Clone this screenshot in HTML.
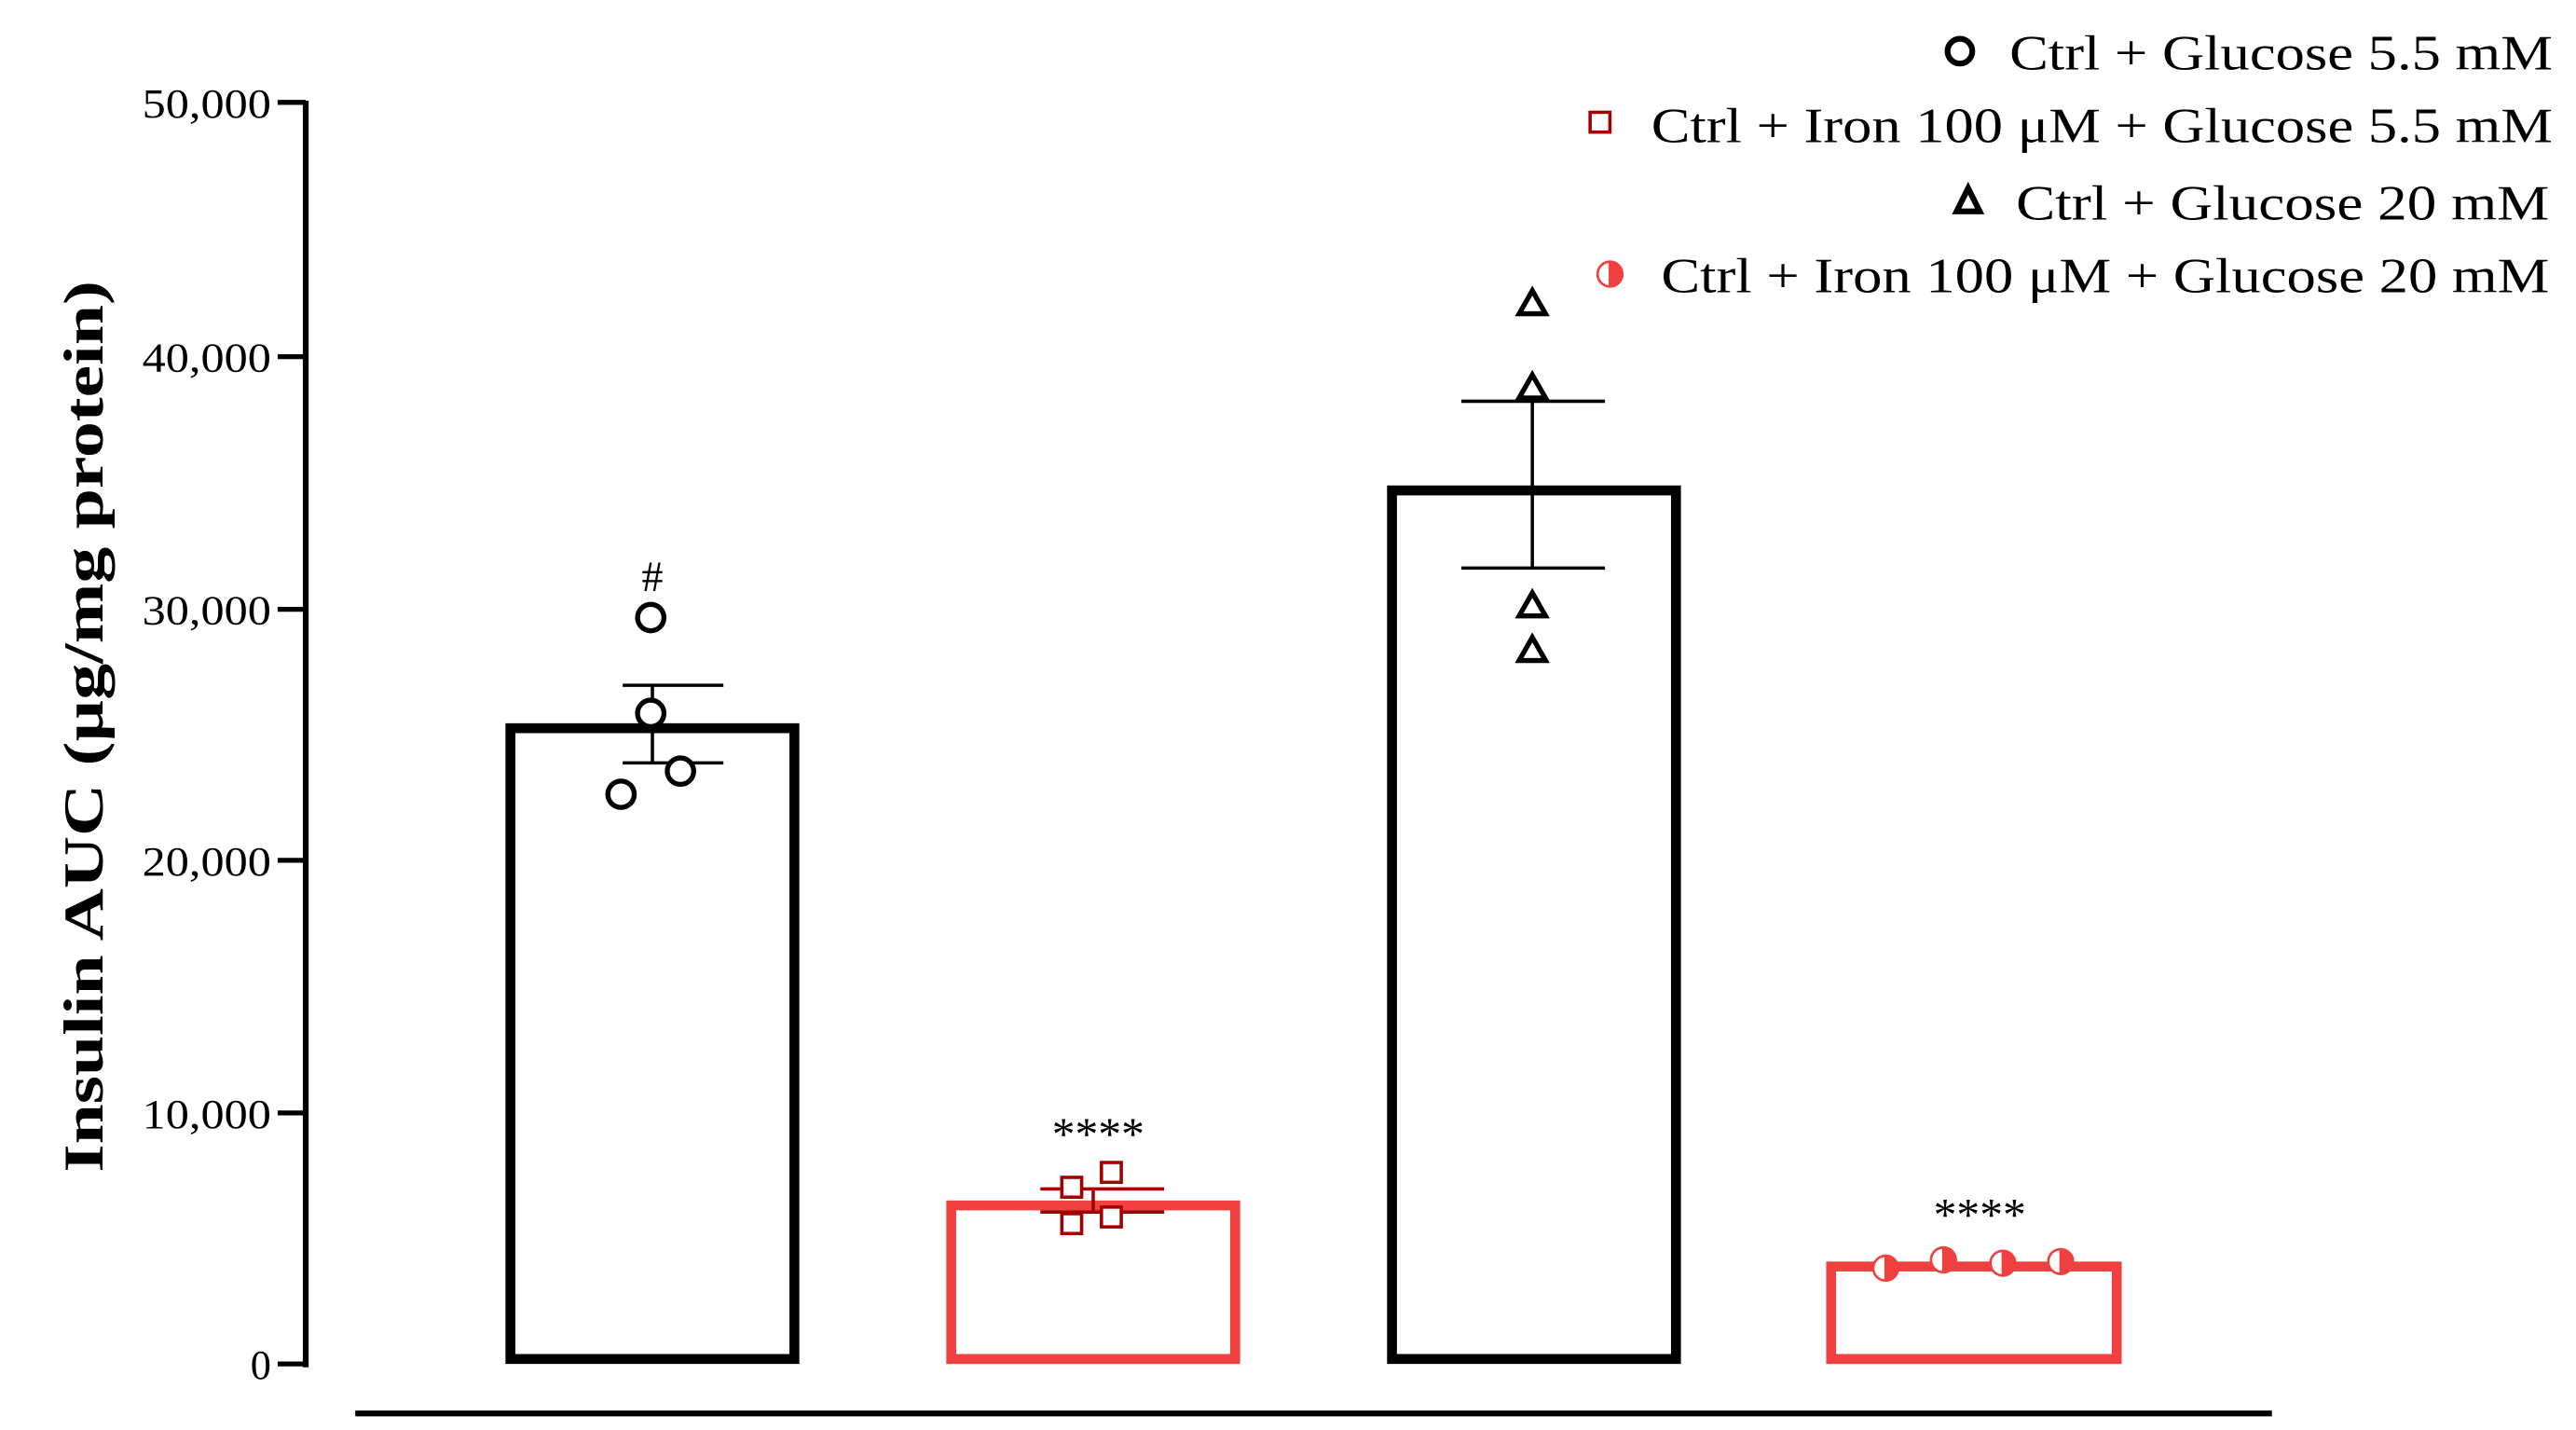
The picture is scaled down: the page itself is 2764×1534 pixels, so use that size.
<!DOCTYPE html>
<html><head><meta charset="utf-8"><style>html,body{margin:0;padding:0;background:#fff}svg{display:block}</style></head>
<body>
<svg width="2764" height="1534" viewBox="0 0 1560 866" xmlns="http://www.w3.org/2000/svg" font-family="Liberation Serif, serif">
<rect width="1560" height="866" fill="#fff"/>
<line x1="185" y1="61" x2="185" y2="828" stroke="#000" stroke-width="3.5"/>
<g stroke="#000" stroke-width="3">
<line x1="168" y1="62" x2="185" y2="62"/><line x1="168" y1="216" x2="185" y2="216"/><line x1="168" y1="369" x2="185" y2="369"/><line x1="168" y1="521" x2="185" y2="521"/><line x1="168" y1="674" x2="185" y2="674"/><line x1="168" y1="826" x2="185" y2="826"/>
</g>
<g font-size="25" text-anchor="end" fill="#000">
<text x="164" y="71" textLength="78" lengthAdjust="spacingAndGlyphs">50,000</text><text x="164" y="225" textLength="78" lengthAdjust="spacingAndGlyphs">40,000</text><text x="164" y="378" textLength="78" lengthAdjust="spacingAndGlyphs">30,000</text><text x="164" y="530" textLength="78" lengthAdjust="spacingAndGlyphs">20,000</text><text x="164" y="683" textLength="78" lengthAdjust="spacingAndGlyphs">10,000</text><text x="164" y="835">0</text>
</g>
<text transform="translate(62,440) rotate(-90)" font-size="34" font-weight="bold" text-anchor="middle" textLength="540" lengthAdjust="spacingAndGlyphs">Insulin AUC (µg/mg protein)</text>
<line x1="215" y1="856" x2="1376" y2="856" stroke="#000" stroke-width="3.5"/>
<rect x="309" y="441" width="172" height="382" fill="none" stroke="#000" stroke-width="6"/>
<rect x="576" y="730" width="172" height="93" fill="none" stroke="#f04040" stroke-width="6"/>
<rect x="843" y="297" width="172" height="526" fill="none" stroke="#000" stroke-width="6"/>
<rect x="1109" y="767" width="173" height="56" fill="none" stroke="#f04040" stroke-width="6"/>
<g stroke="#000" stroke-width="2">
<line x1="395" y1="415" x2="395" y2="462"/><line x1="377" y1="415" x2="438" y2="415"/><line x1="377" y1="462" x2="438" y2="462"/>
<line x1="928" y1="243" x2="928" y2="344"/><line x1="885" y1="243" x2="972" y2="243"/><line x1="885" y1="344" x2="972" y2="344"/>
</g>
<g stroke="#a00000" stroke-width="2">
<line x1="662" y1="720" x2="662" y2="734"/><line x1="630" y1="720" x2="705" y2="720"/><line x1="630" y1="734" x2="705" y2="734"/>
</g>
<g fill="#fff" stroke="#000" stroke-width="3">
<circle cx="394" cy="374" r="8"/><circle cx="394" cy="432" r="8"/><circle cx="412" cy="467" r="8"/><circle cx="376" cy="481" r="8"/>
</g>
<g fill="#fff" stroke="#a00000" stroke-width="2">
<rect x="643" y="713" width="12" height="12"/><rect x="667" y="704" width="12" height="12"/><rect x="643" y="735" width="12" height="12"/><rect x="667" y="731" width="12" height="12"/>
</g>
<g fill="#fff" stroke="#000" stroke-width="3">
<polygon points="928,176 920,190 936,190"/><polygon points="928,227 920,241 936,241"/><polygon points="928,359 920,373 936,373"/><polygon points="928,386 920,400 936,400"/>
</g>
<g stroke="#f04040" stroke-width="1.5">
<g transform="translate(1142,768)"><circle r="7.5" fill="#fff"/><path d="M0,-7.5 A7.5,7.5 0 0 1 0,7.5 Z" fill="#f04040"/></g>
<g transform="translate(1177,763)"><circle r="7.5" fill="#fff"/><path d="M0,-7.5 A7.5,7.5 0 0 1 0,7.5 Z" fill="#f04040"/></g>
<g transform="translate(1213,765)"><circle r="7.5" fill="#fff"/><path d="M0,-7.5 A7.5,7.5 0 0 1 0,7.5 Z" fill="#f04040"/></g>
<g transform="translate(1248,764)"><circle r="7.5" fill="#fff"/><path d="M0,-7.5 A7.5,7.5 0 0 1 0,7.5 Z" fill="#f04040"/></g>
</g>
<text x="395" y="358" font-size="26" text-anchor="middle">#</text>
<text x="665" y="696" font-size="28" text-anchor="middle">****</text>
<text x="1199" y="745" font-size="28" text-anchor="middle">****</text>
<g font-size="30" fill="#000">
<text x="1217" y="42" textLength="329" lengthAdjust="spacingAndGlyphs">Ctrl + Glucose 5.5 mM</text>
<text x="1000" y="86" textLength="546" lengthAdjust="spacingAndGlyphs">Ctrl + Iron 100 μM + Glucose 5.5 mM</text>
<text x="1221" y="133" textLength="323" lengthAdjust="spacingAndGlyphs">Ctrl + Glucose 20 mM</text>
<text x="1006" y="177" textLength="538" lengthAdjust="spacingAndGlyphs">Ctrl + Iron 100 μM + Glucose 20 mM</text>
</g>
<circle cx="1187" cy="31" r="7.5" fill="#fff" stroke="#000" stroke-width="3.5"/>
<rect x="963" y="68" width="12" height="12" fill="#fff" stroke="#a00000" stroke-width="2"/>
<polygon points="1192,114 1185,128 1199,128" fill="#fff" stroke="#000" stroke-width="3.5"/>
<g transform="translate(975,166)" stroke="#f04040" stroke-width="1.5"><circle r="7.5" fill="#fff"/><path d="M0,-7.5 A7.5,7.5 0 0 1 0,7.5 Z" fill="#f04040"/></g>
</svg>
</body></html>
